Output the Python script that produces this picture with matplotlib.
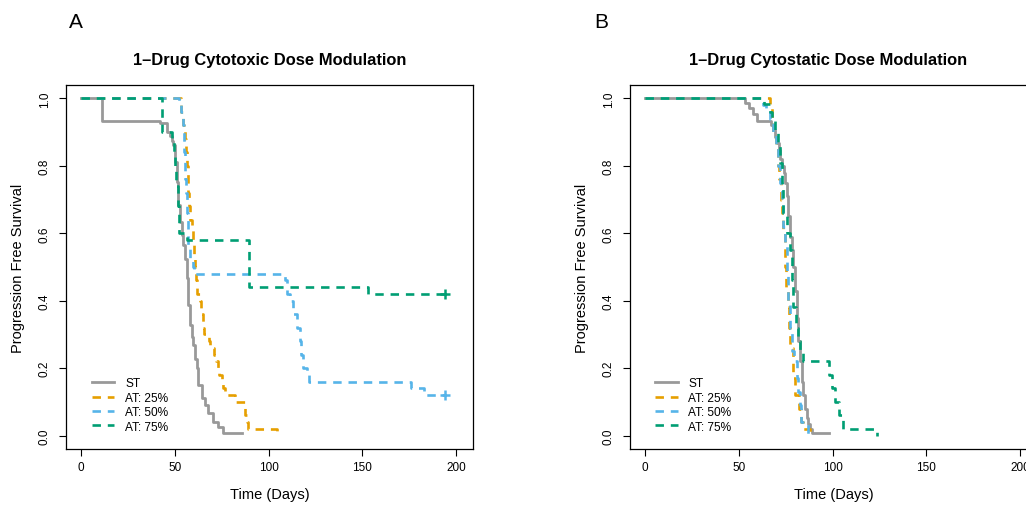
import matplotlib
matplotlib.use("Agg")
import matplotlib.pyplot as plt

plt.rcParams["font.family"] = ["Liberation Sans", "DejaVu Sans"]

# ---- Panel A: cytotoxic dose modulation (time in days, PFS) ----
a_st_t = [0, 11, 42, 45.7, 47.5, 48.4, 49.2, 50.1, 51.0, 51.9, 52.8, 53.7, 54.6, 55.5, 56.4,
          57.3, 58.1, 59.0, 59.9, 60.8, 61.7, 62.6, 64.4, 66.1, 67.9, 70.6, 73.2, 75.9, 85.7]
a_st_s = [1.0, 0.933, 0.927, 0.90, 0.889, 0.875, 0.862, 0.812, 0.753, 0.684, 0.634, 0.595, 0.565,
          0.525, 0.466, 0.387, 0.327, 0.293, 0.268, 0.228, 0.199, 0.149, 0.110, 0.090, 0.068,
          0.040, 0.025, 0.008, 0.008]

a_25_t = [0, 53.5, 54.5, 55.3, 55.8, 56.3, 56.8, 57.3, 57.7, 58.2, 59.0, 59.9, 60.5, 61.0, 61.5,
          62.0, 63.5, 64.2, 64.8, 65.5, 68.5, 69.0, 71.0, 71.8, 73.0, 73.6, 75.2, 75.8, 76.8,
          82.0, 87.3, 88.5, 89.2, 104.4]
a_25_s = [1.0, 0.96, 0.92, 0.88, 0.84, 0.80, 0.76, 0.72, 0.68, 0.64, 0.62, 0.58, 0.54, 0.50, 0.46,
          0.42, 0.40, 0.36, 0.32, 0.30, 0.28, 0.26, 0.24, 0.22, 0.20, 0.18, 0.16, 0.14, 0.12,
          0.10, 0.06, 0.04, 0.02, 0.0]

a_50_t = [0, 52.5, 53.5, 54.3, 54.8, 55.0, 55.3, 55.6, 56.0, 56.4, 56.8, 57.3, 58.0, 59.5, 60.0,
          108.8, 109.7, 111.5, 113.2, 115.0, 116.8, 117.5, 118.5, 120.4, 121.8, 176.0, 183.0, 194.1]
a_50_s = [1.0, 0.98, 0.96, 0.92, 0.88, 0.84, 0.80, 0.76, 0.72, 0.66, 0.62, 0.56, 0.52, 0.50, 0.48,
          0.46, 0.42, 0.40, 0.36, 0.32, 0.28, 0.24, 0.20, 0.18, 0.16, 0.14, 0.12, 0.12]

a_75_t = [0, 43.0, 48.6, 49.5, 50.2, 50.8, 51.5, 52.0, 56.5, 89.5, 153.2, 194.1]
a_75_s = [1.0, 0.90, 0.88, 0.84, 0.80, 0.74, 0.68, 0.60, 0.58, 0.44, 0.42, 0.42]

# ---- Panel B: cytostatic dose modulation ----
b_st_t = [0, 53.5, 55.5, 57.5, 59.5, 67.0, 68.5, 69.5, 70.5, 71.3, 72.2, 73.0, 74.0, 74.8, 75.6,
          76.5, 77.3, 78.2, 79.1, 80.0, 80.9, 81.8, 82.7, 83.6, 84.4, 85.3, 86.2, 87.1, 88.0,
          88.9, 98.3]
b_st_s = [1.0, 0.987, 0.973, 0.953, 0.933, 0.921, 0.907, 0.887, 0.867, 0.847, 0.82, 0.80, 0.78,
          0.75, 0.71, 0.65, 0.59, 0.55, 0.50, 0.43, 0.35, 0.28, 0.22, 0.16, 0.12, 0.08, 0.053,
          0.033, 0.02, 0.007, 0.007]

b_25_t = [0, 66.7, 67.5, 68.4, 70.0, 71.0, 71.6, 72.4, 72.9, 73.8, 74.7, 75.4, 76.0, 76.6, 77.3,
          78.8, 79.1, 80.0, 82.3, 83.0, 84.5, 88.0]
b_25_s = [1.0, 0.98, 0.94, 0.90, 0.86, 0.80, 0.76, 0.70, 0.66, 0.60, 0.50, 0.44, 0.38, 0.32, 0.26,
          0.22, 0.17, 0.12, 0.08, 0.04, 0.02, 0.0]

b_50_t = [0, 63.1, 64.5, 66.7, 68.5, 70.0, 71.0, 72.0, 72.9, 73.8, 74.7, 75.6, 76.4, 77.3, 78.4,
          79.5, 80.9, 81.8, 82.7, 83.4, 87.1]
b_50_s = [1.0, 0.98, 0.96, 0.94, 0.90, 0.86, 0.80, 0.75, 0.70, 0.62, 0.57, 0.48, 0.40, 0.32, 0.25,
          0.22, 0.17, 0.13, 0.09, 0.04, 0.0]

b_75_t = [0, 63.5, 66.8, 67.5, 69.3, 71.1, 72.0, 72.9, 73.8, 75.6, 77.3, 78.2, 79.1, 80.5, 81.8,
          82.7, 84.5, 98.0, 99.6, 101.3, 103.5, 105.6, 123.6]
b_75_s = [1.0, 0.985, 0.96, 0.94, 0.90, 0.86, 0.81, 0.74, 0.66, 0.60, 0.55, 0.46, 0.38, 0.32, 0.28,
          0.25, 0.22, 0.18, 0.14, 0.10, 0.06, 0.02, 0.0]

labels = ["ST", "AT: 25%", "AT: 50%", "AT: 75%"]
colors = ["#999999", "#E69F00", "#56B4E9", "#009E73"]

x_ticks = [0, 50, 100, 150, 200]
y_ticks = [0.0, 0.2, 0.4, 0.6, 0.8, 1.0]

# censoring marks (end of follow-up) in panel A
a_cens_t = [194.1, 194.1]
a_cens_s = [0.12, 0.42]
a_cens_c = ["#56B4E9", "#009E73"]

fig = plt.figure(figsize=(10.26, 5.10), dpi=100)
W, H = 1026, 510
ax_w, ax_h = 407 / W, 364 / H
ax_a = fig.add_axes([66 / W, 60 / H, ax_w, ax_h])
ax_b = fig.add_axes([630 / W, 60 / H, ax_w, ax_h])


def draw_panel(ax, series, title, title_x, legend_x):
    for (t, s), lab, col in zip(series, labels, colors):
        if lab == "ST":
            ax.plot(t, s, drawstyle="steps-post", color=col, lw=2.0, label=lab)
        else:
            ax.plot(t, s, drawstyle="steps-post", color=col, lw=1.9,
                    dashes=(3.2, 2.6), label=lab)
    ax.set_xlim(-8, 209)
    ax.set_ylim(-0.04, 1.04)
    ax.set_xticks(x_ticks)
    ax.set_yticks(y_ticks)
    ax.set_yticklabels([f"{v:.1f}" for v in y_ticks])
    ax.tick_params(direction="out", length=5, width=0.8, labelsize=8.5)
    ax.tick_params(axis="x", pad=4)
    ax.tick_params(axis="y", labelrotation=90, pad=6)
    for lbl in ax.get_yticklabels():
        lbl.set_va("center")
    for sp in ax.spines.values():
        sp.set_linewidth(0.9)
    ax.set_xlabel("Time (Days)", fontsize=10.5, labelpad=10)
    ax.set_ylabel("Progression Free Survival", fontsize=10.5, labelpad=10)
    ax.text(title_x, 1.059, title, transform=ax.transAxes, ha="center", va="baseline",
            fontsize=11.9, fontweight="bold")
    ax.legend(loc="lower left", bbox_to_anchor=(legend_x, 0.045), frameon=False,
              fontsize=8.6, handlelength=1.9, handletextpad=0.9, labelspacing=0.2,
              borderpad=0, borderaxespad=0)


draw_panel(ax_a, [(a_st_t, a_st_s), (a_25_t, a_25_s), (a_50_t, a_50_s), (a_75_t, a_75_s)],
           "1\u2013Drug Cytotoxic Dose Modulation", 0.5, 0.063)
for t, s, c in zip(a_cens_t, a_cens_s, a_cens_c):
    ax_a.plot([t], [s], marker="+", color=c, markersize=7, mew=1.8, linestyle="none")

draw_panel(ax_b, [(b_st_t, b_st_s), (b_25_t, b_25_s), (b_50_t, b_50_s), (b_75_t, b_75_s)],
           "1\u2013Drug Cytostatic Dose Modulation", 0.4865, 0.061)

fig.text(75.5 / W, 1 - 22 / H, "A", ha="center", va="center", fontsize=15)
fig.text(601.5 / W, 1 - 22 / H, "B", ha="center", va="center", fontsize=15)

fig.savefig("out.png", dpi=100)
